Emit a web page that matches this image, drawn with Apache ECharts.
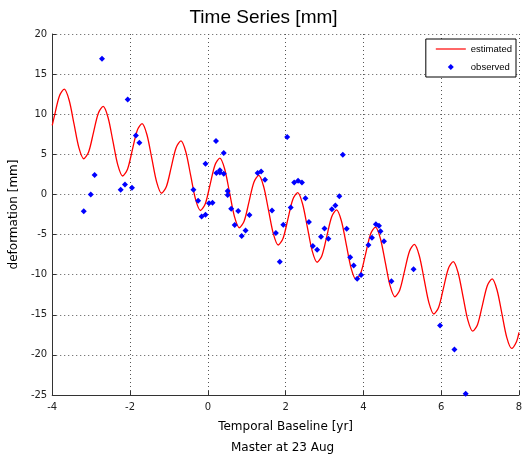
<!DOCTYPE html>
<html>
<head>
<meta charset="utf-8">
<script src="https://cdn.jsdelivr.net/npm/echarts@6/dist/echarts.min.js"></script>
<style>
html,body{margin:0;padding:0;background:#fff;}
#chart{width:527px;height:457px;}
</style>
</head>
<body>
<div id="chart"></div>
<script>
// Estimated (fitted) curve: points
var curveX = [-4, -3.94, -3.815, -3.69, -3.565, -3.44, -3.315, -3.19, -3.065, -2.94, -2.815,
  -2.69, -2.565, -2.44, -2.315, -2.19, -2.065, -1.94, -1.815, -1.69, -1.565,
  -1.44, -1.315, -1.19, -1.065, -0.94, -0.815, -0.69, -0.565, -0.44, -0.315,
  -0.19, -0.065, 0.06, 0.185, 0.31, 0.435, 0.56, 0.685, 0.81, 0.935,
  1.06, 1.185, 1.31, 1.435, 1.56, 1.685, 1.81, 1.935, 2.06, 2.185,
  2.31, 2.435, 2.56, 2.685, 2.81, 2.935, 3.06, 3.185, 3.31, 3.435,
  3.56, 3.685, 3.81, 3.935, 4.06, 4.185, 4.31, 4.435, 4.56, 4.685,
  4.81, 4.935, 5.06, 5.185, 5.31, 5.435, 5.56, 5.685, 5.81, 5.935,
  6.06, 6.185, 6.31, 6.435, 6.56, 6.685, 6.81, 6.935, 7.06, 7.185,
  7.31, 7.435, 7.56, 7.685, 7.81, 7.935, 8];
var curveY = [8.6, 9.86, 12.28, 13.12, 11.74, 8.79, 5.83, 4.45, 5.29, 7.71, 10.13,
  10.97, 9.59, 6.64, 3.68, 2.30, 3.14, 5.56, 7.98, 8.82, 7.44,
  4.49, 1.53, 0.15, 0.99, 3.41, 5.83, 6.67, 5.29, 2.34, -0.62,
  -2.00, -1.16, 1.26, 3.68, 4.52, 3.14, 0.19, -2.77, -4.15, -3.31,
  -0.89, 1.53, 2.37, 0.99, -1.96, -4.92, -6.30, -5.46, -3.04, -0.62,
  0.22, -1.16, -4.11, -7.07, -8.45, -7.61, -5.19, -2.77, -1.93, -3.31,
  -6.26, -9.22, -10.60, -9.76, -7.34, -4.92, -4.08, -5.46, -8.41, -11.37,
  -12.75, -11.91, -9.49, -7.07, -6.23, -7.61, -10.56, -13.52, -14.90, -14.06,
  -11.64, -9.22, -8.38, -9.76, -12.71, -15.67, -17.05, -16.21, -13.79, -11.37,
  -10.53, -11.91, -14.86, -17.82, -19.20, -18.36, -17.2];

// Observed points
var obsX = [-3.19, -3.01, -2.91, -2.72, -2.24, -2.13, -2.06, -1.95, -1.85, -1.76,
            -0.37, -0.25, -0.16, -0.06, -0.06, 0.03, 0.12, 0.21, 0.22, 0.31,
            0.31, 0.41, 0.41, 0.51, 0.51, 0.60, 0.69, 0.78, 0.87, 0.97,
            1.07, 1.28, 1.37, 1.47, 1.65, 1.75, 1.85, 1.94, 2.04, 2.13,
            2.22, 2.32, 2.42, 2.51, 2.60, 2.70, 2.81, 2.91, 3.00, 3.10,
            3.19, 3.28, 3.38, 3.47, 3.57, 3.66, 3.75, 3.84, 3.94, 4.13,
            4.22, 4.32, 4.40, 4.44, 4.53, 4.72, 5.29, 5.97, 6.34, 6.63];
var obsY = [-2.08, 0.0, 2.41, 16.9, 0.58, 1.25, 11.85, 0.83, 7.36, 6.45,
            0.58, -0.79, -2.76, -2.53, 3.83, -1.10, -1.02, 6.67, 2.68, 3.03,
            2.72, 2.58, 5.17, 0.43, -0.08, -1.78, -3.82, -2.06, -5.19, -4.49,
            -2.55, 2.66, 2.87, 1.83, -2.0, -4.82, -8.4, -3.79, 7.15, -1.64,
            1.50, 1.72, 1.50, -0.46, -3.45, -6.44, -6.90, -5.28, -4.24, -5.53,
            -1.85, -1.39, -0.21, 4.95, -4.28, -7.83, -8.87, -10.5, -10.03, -6.3,
            -5.40, -3.72, -3.90, -4.59, -5.84, -10.81, -9.31, -16.33, -19.33, -24.85];

var xTicks = [-4, -2, 0, 2, 4, 6, 8];
var yTicks = [-25, -20, -15, -10, -5, 0, 5, 10, 15, 20];

var curveData = curveX.map(function (x, i) { return [x, curveY[i]]; });
var obsData = obsX.map(function (x, i) { return [x, obsY[i]]; });

var FONT = '"DejaVu Sans", Tahoma, sans-serif';
var chart = echarts.init(document.getElementById('chart'), null, {renderer: 'canvas'});
var gridLine = {show: true, lineStyle: {color: '#555', width: 1, type: [1, 3]}};
chart.setOption({
  animation: false,
  backgroundColor: '#fff',
  title: {
    text: 'Time Series [mm]',
    left: 'center',
    top: 3,
    textStyle: {fontFamily: '"Liberation Sans", Arial, sans-serif', fontSize: 19, fontWeight: 'normal', color: '#000'}
  },
  grid: {left: 48, right: 8, top: 34, bottom: 62, containLabel: false},
  legend: {
    orient: 'vertical',
    right: 11,
    top: 39,
    backgroundColor: '#fff',
    borderColor: '#000',
    borderWidth: 1,
    padding: [4, 4, 4, 10],
    itemGap: 6,
    itemWidth: 30,
    itemHeight: 6,
    symbolKeepAspect: true,
    textStyle: {fontFamily: '"Liberation Sans", Arial, sans-serif', fontSize: 9.5, lineHeight: 12, color: '#000'},
    data: [
      {name: 'estimated', icon: 'path://M0,0 L30,0 L30,1.2 L0,1.2 Z', symbolKeepAspect: true},
      {name: 'observed', icon: 'path://M3,0 L6,3 L3,6 L0,3 Z', symbolKeepAspect: true}
    ]
  },
  xAxis: {
    type: 'value',
    min: -4, max: 8, interval: 2,
    name: 'Temporal Baseline [yr]',
    nameLocation: 'middle',
    nameGap: 26,
    nameTextStyle: {fontFamily: FONT, fontSize: 12, color: '#000'},
    axisLine: {show: true, onZero: false, lineStyle: {color: '#333', width: 1}},
    axisTick: {show: true, inside: true, length: 4, lineStyle: {color: '#333'}},
    axisLabel: {fontFamily: FONT, fontSize: 10, color: '#222', margin: 7,
      formatter: function (v) { return xTicks.indexOf(v) >= 0 ? String(v) : ''; }},
    splitLine: gridLine
  },
  yAxis: {
    type: 'value',
    min: -25, max: 20, interval: 5,
    name: 'deformation [mm]',
    nameLocation: 'middle',
    nameRotate: 90,
    nameGap: 17,
    nameTextStyle: {fontFamily: FONT, fontSize: 12, color: '#000'},
    axisLine: {show: true, onZero: false, lineStyle: {color: '#333', width: 1}},
    axisTick: {show: true, inside: true, length: 4, lineStyle: {color: '#333'}},
    axisLabel: {fontFamily: FONT, fontSize: 10, color: '#222', margin: 5,
      formatter: function (v) { return yTicks.indexOf(v) >= 0 ? String(v) : ''; }},
    splitLine: gridLine
  },
  graphic: [{
    type: 'text',
    left: 231,
    top: 442,
    style: {text: 'Master at 23 Aug', fontFamily: FONT, fontSize: 12, fill: '#000'}
  }],
  series: [
    {
      name: 'estimated',
      type: 'line',
      data: curveData,
      smooth: 0.3,
      symbol: 'none',
      lineStyle: {color: '#ff0000', width: 1.3},
      itemStyle: {color: '#ff0000'},
      z: 2
    },
    {
      name: 'observed',
      type: 'scatter',
      data: obsData,
      symbol: 'diamond',
      symbolSize: 6,
      itemStyle: {color: '#0000ff', opacity: 1},
      z: 3
    }
  ]
});
</script>
</body>
</html>
